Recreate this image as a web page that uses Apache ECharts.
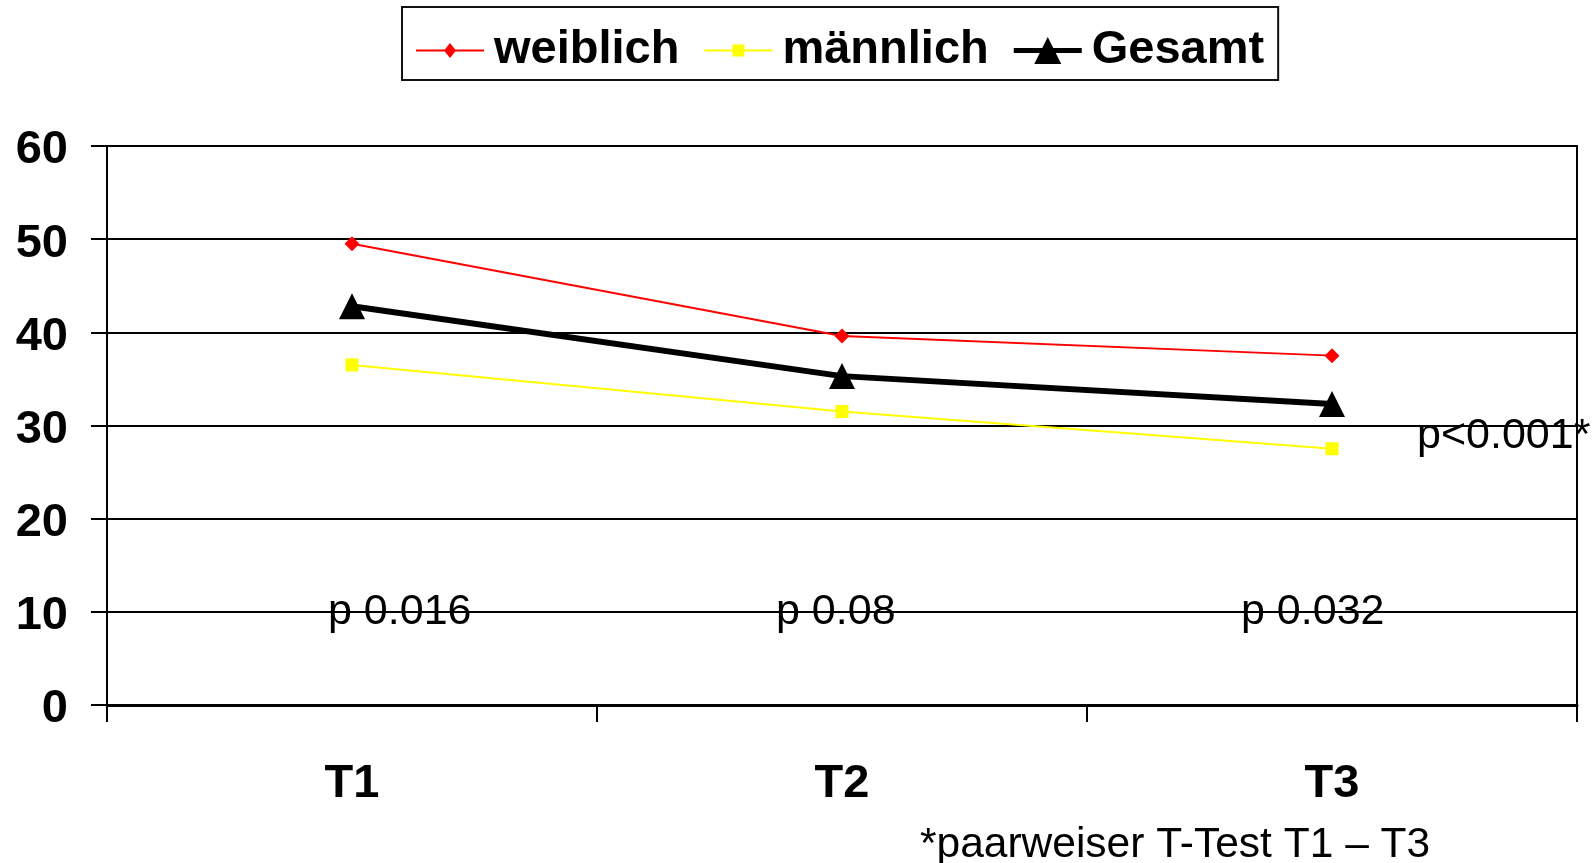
<!DOCTYPE html>
<html>
<head>
<meta charset="utf-8">
<script src="https://cdn.jsdelivr.net/npm/echarts@6/dist/echarts.min.js"></script>
<style>
  html, body { margin: 0; padding: 0; background: #fff; }
  #chart { width: 1595px; height: 863px; }
</style>
</head>
<body>
<div id="chart"></div>
<script>
// Measurement points and mean scores per group
const categories = ['T1', 'T2', 'T3'];
const weiblich = [49.5, 39.6, 37.5];
const maennlich = [36.5, 31.5, 27.5];
const gesamt = [42.8, 35.3, 32.3];

// Significance notes: per time point, and overall (T1 vs T3)
const pLabels = ['p 0.016', 'p 0.08', 'p 0.032'];
const pLevel = 10;
const overallLabel = 'p<0.001*';
const overallAt = ['T3', 30];
const footnote = '*paarweiser T-Test T1 \u2013 T3';

const seriesNames = ['weiblich', 'm\u00e4nnlich', 'Gesamt'];

const FONT = 'Liberation Sans, Arial, sans-serif';
const BOLD = { fontFamily: FONT, fontWeight: 'bold', fontSize: 47, color: '#000' };

// horizontal label shifts for the note texts (pixels)
const pShift = [-24, -66, -91];
const overallShift = [85, 11];

// legend glyphs: line with marker, drawn 1:1 inside the item box
const legendIcons = [
  'path://M0,6.5H68V8.5H0Z M34,0L40,7.5L34,15L28,7.5Z',
  'path://M0,5H68V7H0Z M28,0H40V12H28Z',
  'path://M0,11H68V16H0Z M34,0L47.5,27H20.5Z'
];
const legendColors = ['#ff0000', '#ffff00', '#000000'];

const noteData = categories.map((c, i) => ({
  value: [c, pLevel],
  label: { formatter: pLabels[i], offset: [pShift[i], 0] }
}));
noteData.push({
  value: overallAt,
  label: { formatter: overallLabel, offset: overallShift }
});

const chart = echarts.init(document.getElementById('chart'), null, { renderer: 'canvas' });

chart.setOption({
  animation: false,
  backgroundColor: '#fff',
  legend: {
    left: 402,
    top: 7,
    padding: [20, 14, 6, 14],
    itemWidth: 68,
    itemHeight: 28,
    itemGap: 25,
    backgroundColor: '#fff',
    borderColor: '#111',
    borderWidth: 2,
    borderRadius: 0,
    selectedMode: false,
    textStyle: Object.assign({}, BOLD, { lineHeight: 47, padding: [0, 0, 0, 5] }),
    data: seriesNames.map((n, i) => ({
      name: n,
      icon: legendIcons[i],
      itemStyle: { color: legendColors[i], borderWidth: 0 }
    }))
  },
  grid: {
    left: 107,
    right: 18,
    top: 146,
    bottom: 158,
    show: true,
    borderColor: '#000',
    borderWidth: 2,
    backgroundColor: 'transparent'
  },
  xAxis: {
    type: 'category',
    data: categories,
    boundaryGap: true,
    axisLine: { show: true, lineStyle: { color: '#000', width: 3 } },
    axisTick: { show: true, length: 17, inside: false, lineStyle: { color: '#000', width: 2 } },
    axisLabel: Object.assign({}, BOLD, { margin: 56, lineHeight: 47 }),
    splitLine: { show: false }
  },
  yAxis: {
    type: 'value',
    min: 0,
    max: 60,
    interval: 10,
    axisLine: { show: true, lineStyle: { color: '#000', width: 2 } },
    axisTick: { show: true, length: 16, lineStyle: { color: '#000', width: 2 } },
    axisLabel: Object.assign({}, BOLD, { margin: 39, verticalAlign: 'top', lineHeight: 9 }),
    splitLine: { show: true, lineStyle: { color: '#000', width: 2 } }
  },
  series: [
    {
      name: seriesNames[0],
      type: 'line',
      data: weiblich,
      symbol: 'diamond',
      symbolSize: [15, 15],
      lineStyle: { color: '#ff0000', width: 2 },
      itemStyle: { color: '#ff0000', borderWidth: 0 },
      z: 3
    },
    {
      name: seriesNames[1],
      type: 'line',
      data: maennlich,
      symbol: 'rect',
      symbolSize: 13,
      lineStyle: { color: '#ffff00', width: 2 },
      itemStyle: { color: '#ffff00', borderWidth: 0 },
      z: 3
    },
    {
      name: seriesNames[2],
      type: 'line',
      data: gesamt,
      symbol: 'triangle',
      symbolSize: 26,
      lineStyle: { color: '#000', width: 6 },
      itemStyle: { color: '#000', borderWidth: 0 },
      z: 4
    },
    {
      name: 'notes',
      type: 'scatter',
      data: noteData,
      symbolSize: 0,
      silent: true,
      itemStyle: { color: 'transparent', opacity: 1 },
      label: {
        show: true,
        position: 'right',
        distance: 0,
        align: 'left',
        verticalAlign: 'middle',
        fontFamily: FONT,
        fontSize: 43,
        color: '#000',
        opacity: 1,
        textBorderWidth: 0
      },
      z: 5
    }
  ],
  graphic: [
    {
      type: 'text',
      left: 920,
      top: 824,
      style: {
        text: footnote,
        font: '42.5px ' + FONT,
        fill: '#000'
      }
    }
  ]
});
</script>
</body>
</html>
